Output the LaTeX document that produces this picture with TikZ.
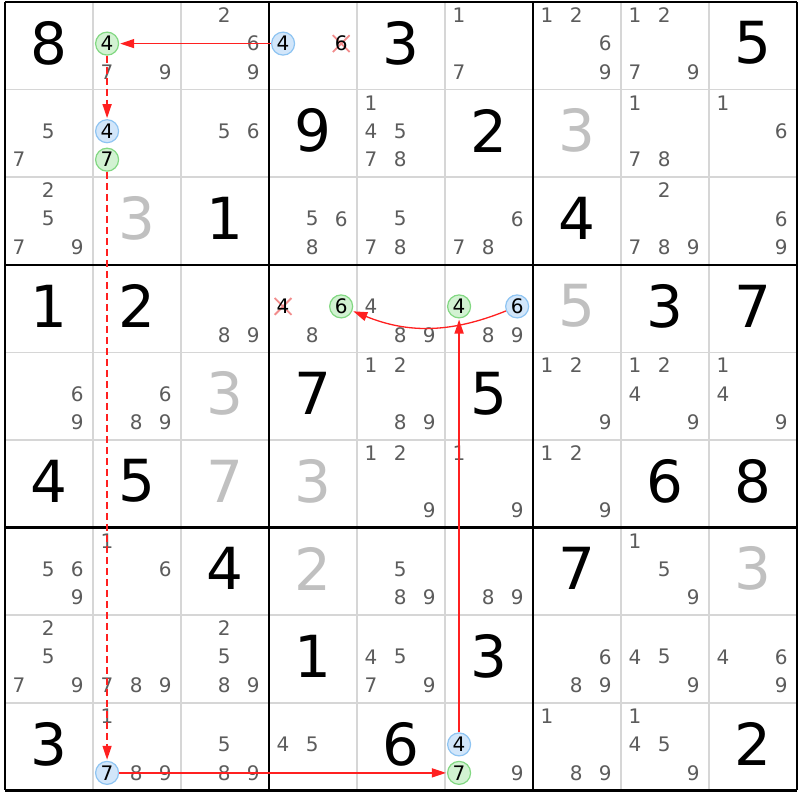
\documentclass[tikz,border=0pt]{standalone}
\usepackage{fontspec}
\setmainfont{DejaVu Sans}
\usetikzlibrary{arrows.meta,shapes.misc}

\definecolor{candgray}{HTML}{5C5C5C}
\definecolor{solvedgray}{HTML}{C0C0C0}
\definecolor{gridgray}{HTML}{D6D6D6}
\definecolor{greenfill}{HTML}{D2F2D2}
\definecolor{greenline}{HTML}{82D882}
\definecolor{bluefill}{HTML}{D2E6FA}
\definecolor{blueline}{HTML}{8EC4F2}
\definecolor{elimpink}{HTML}{F28C8C}
\definecolor{linkred}{HTML}{FF2020}

\tikzset{
  bigdigit/.style={inner sep=0pt, font=\fontsize{58}{58}\selectfont},
  givendigit/.style={bigdigit, text=black},
  solveddigit/.style={bigdigit, text=solvedgray},
  cand/.style={inner sep=0pt, font=\fontsize{20}{20}\selectfont, text=candgray},
  pickgreen/.style={cand, text=black, circle, minimum size=23pt,
    draw=greenline, fill=greenfill, line width=1.2pt},
  pickblue/.style={pickgreen, draw=blueline, fill=bluefill},
  elimdigit/.style={cand, text=black},
  elimx/.style={cross out, draw=elimpink, line width=1.8pt, minimum size=15pt, inner sep=0pt},
  link/.style={draw=linkred, line width=1.3pt, -{Triangle[length=14pt,width=9pt]}, shorten >=1pt},
  weaklink/.style={link, line width=1.6pt, dash pattern=on 7pt off 4pt},
}

% cell (r,c): big digits
\NewDocumentCommand{\givencell}{mmm}{%
\node[givendigit] (r#1c#2) at (#2-0.5,#1-0.53) {#3};%
}
\NewDocumentCommand{\solvedcell}{mmm}{%
\node[solveddigit] (r#1c#2) at (#2-0.5,#1-0.53) {#3};%
}
% candidate #3 of cell (r,c)
\NewDocumentCommand{\candcell}{mmmO{cand}}{%
\pgfmathsetmacro{\cx}{#2-1+0.16+0.33*mod(#3-1,3)}%
\pgfmathsetmacro{\cy}{#1-1+0.15+0.325*div(#3-1,3)}%
\node[#4] (r#1c#2n#3) at (\cx,\cy) {#3};%
}
\NewDocumentCommand{\candscell}{mmm}{%
\foreach \d in {#3} {\candcell{#1}{#2}{\d}}%
}
\NewDocumentCommand{\pickcell}{mmmO{pickgreen}}{%
\candcell{#1}{#2}{#3}[#4]%
}
\NewDocumentCommand{\elimcell}{mmm}{%
\pgfmathsetmacro{\cx}{#2-1+0.16+0.33*mod(#3-1,3)}%
\pgfmathsetmacro{\cy}{#1-1+0.15+0.325*div(#3-1,3)}%
\node[elimx] (x#1c#2n#3) at (\cx,\cy) {};%
\node[elimdigit] (r#1c#2n#3) at (\cx,\cy) {#3};%
}

\begin{document}
\begin{tikzpicture}[x=88pt, y=-87.6pt]
    \useasboundingbox[fill=white] (-5pt,2pt) rectangle (795pt,-798pt);

    % Grid.
    \foreach \i in {1,2,4,5,7,8} {
        \draw[gridgray, line width=1.6pt] (\i,0) -- (\i,9);
        \draw[gridgray, line width=1.6pt] (0,\i) -- (9,\i);
    }
    \foreach \i in {0,3,6,9} {
        \draw[black, line width=2.6pt] (\i,0) -- (\i,9);
        \draw[black, line width=2.6pt] (0,\i) -- (9,\i);
    }

    % Row 1.
    \givencell{1}{1}{8}
    \candscell{1}{2}{7,9} \pickcell{1}{2}{4}[pickgreen]
    \candscell{1}{3}{2,6,9}
    \pickcell{1}{4}{4}[pickblue] \elimcell{1}{4}{6}
    \givencell{1}{5}{3}
    \candscell{1}{6}{1,7}
    \candscell{1}{7}{1,2,6,9}
    \candscell{1}{8}{1,2,7,9}
    \givencell{1}{9}{5}
    % Row 2.
    \candscell{2}{1}{5,7}
    \pickcell{2}{2}{4}[pickblue] \pickcell{2}{2}{7}[pickgreen]
    \candscell{2}{3}{5,6}
    \givencell{2}{4}{9}
    \candscell{2}{5}{1,4,5,7,8}
    \givencell{2}{6}{2}
    \solvedcell{2}{7}{3}
    \candscell{2}{8}{1,7,8}
    \candscell{2}{9}{1,6}
    % Row 3.
    \candscell{3}{1}{2,5,7,9}
    \solvedcell{3}{2}{3}
    \givencell{3}{3}{1}
    \candscell{3}{4}{5,6,8}
    \candscell{3}{5}{5,7,8}
    \candscell{3}{6}{6,7,8}
    \givencell{3}{7}{4}
    \candscell{3}{8}{2,7,8,9}
    \candscell{3}{9}{6,9}
    % Row 4.
    \givencell{4}{1}{1}
    \givencell{4}{2}{2}
    \candscell{4}{3}{8,9}
    \elimcell{4}{4}{4} \pickcell{4}{4}{6}[pickgreen] \candscell{4}{4}{8}
    \candscell{4}{5}{4,8,9}
    \pickcell{4}{6}{4}[pickgreen] \pickcell{4}{6}{6}[pickblue] \candscell{4}{6}{8,9}
    \solvedcell{4}{7}{5}
    \givencell{4}{8}{3}
    \givencell{4}{9}{7}
    % Row 5.
    \candscell{5}{1}{6,9}
    \candscell{5}{2}{6,8,9}
    \solvedcell{5}{3}{3}
    \givencell{5}{4}{7}
    \candscell{5}{5}{1,2,8,9}
    \givencell{5}{6}{5}
    \candscell{5}{7}{1,2,9}
    \candscell{5}{8}{1,2,4,9}
    \candscell{5}{9}{1,4,9}
    % Row 6.
    \givencell{6}{1}{4}
    \givencell{6}{2}{5}
    \solvedcell{6}{3}{7}
    \solvedcell{6}{4}{3}
    \candscell{6}{5}{1,2,9}
    \candscell{6}{6}{1,9}
    \candscell{6}{7}{1,2,9}
    \givencell{6}{8}{6}
    \givencell{6}{9}{8}
    % Row 7.
    \candscell{7}{1}{5,6,9}
    \candscell{7}{2}{1,6}
    \givencell{7}{3}{4}
    \solvedcell{7}{4}{2}
    \candscell{7}{5}{5,8,9}
    \candscell{7}{6}{8,9}
    \givencell{7}{7}{7}
    \candscell{7}{8}{1,5,9}
    \solvedcell{7}{9}{3}
    % Row 8.
    \candscell{8}{1}{2,5,7,9}
    \candscell{8}{2}{7,8,9}
    \candscell{8}{3}{2,5,8,9}
    \givencell{8}{4}{1}
    \candscell{8}{5}{4,5,7,9}
    \givencell{8}{6}{3}
    \candscell{8}{7}{6,8,9}
    \candscell{8}{8}{4,5,9}
    \candscell{8}{9}{4,6,9}
    % Row 9.
    \givencell{9}{1}{3}
    \candscell{9}{2}{1,8,9} \pickcell{9}{2}{7}[pickblue]
    \candscell{9}{3}{5,8,9}
    \candscell{9}{4}{4,5}
    \givencell{9}{5}{6}
    \pickcell{9}{6}{4}[pickblue] \pickcell{9}{6}{7}[pickgreen] \candscell{9}{6}{9}
    \candscell{9}{7}{1,8,9}
    \candscell{9}{8}{1,4,5,9}
    \givencell{9}{9}{2}

    % Chain.
    \draw[link] (r1c4n4) -- (r1c2n4);
    \draw[weaklink] (r1c2n4) -- (r2c2n4);
    \draw[weaklink] (r2c2n7) -- (r9c2n7);
    \draw[link] (r9c2n7) -- (r9c6n7);
    \draw[link] (r9c6n4) -- (r4c6n4);
    \draw[link] (r4c6n6) to[bend left=22] (r4c4n6);
\end{tikzpicture}
\end{document}
